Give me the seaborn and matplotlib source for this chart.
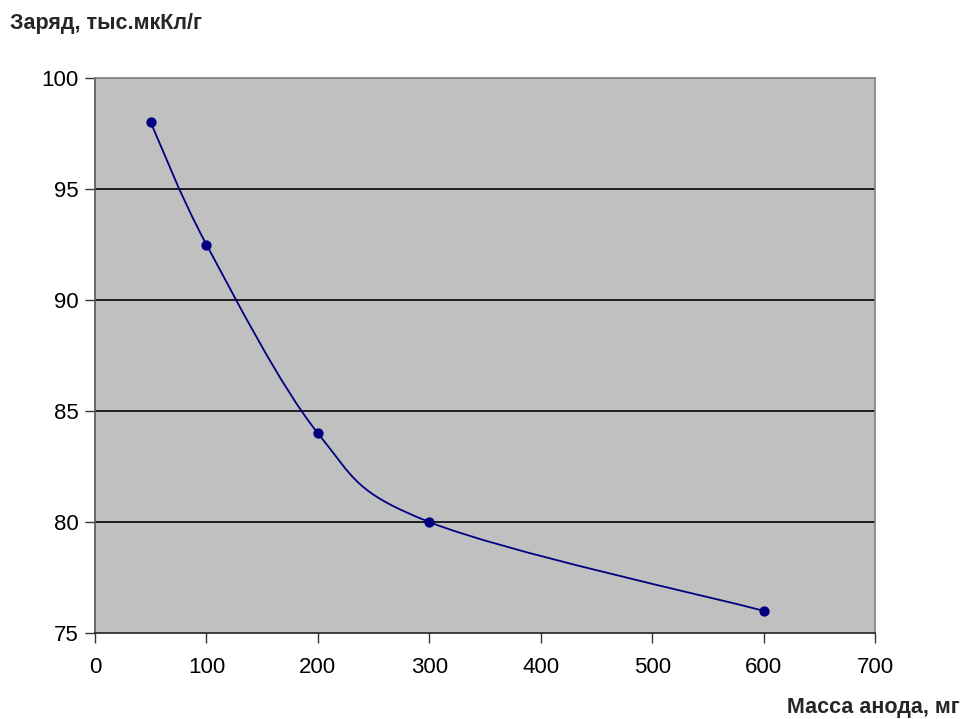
import seaborn as sns
import pandas as pd
import numpy as np
import matplotlib
matplotlib.use('Agg')
import matplotlib.pyplot as plt
from matplotlib.path import Path
from matplotlib.patches import PathPatch

mass = [50, 100, 200, 300, 600]
charge = [98, 92.5, 84, 80, 76]
x_ticks = [0, 100, 200, 300, 400, 500, 600, 700]
y_ticks = [75, 80, 85, 90, 95, 100]
line_color = "#000080"


def smooth_path(xs, ys):
    # Excel-like smoothed line: cubic Bezier segments with Catmull-Rom tangents
    p = np.column_stack([xs, ys]).astype(float)
    n = len(p)
    verts = [p[0]]
    codes = [Path.MOVETO]
    for i in range(n - 1):
        prev = p[i - 1] if i > 0 else p[i]
        nxt = p[i + 2] if i + 2 < n else p[i + 1]
        c1 = p[i] + (p[i + 1] - prev) / 6.0
        c2 = p[i + 1] - (nxt - p[i]) / 6.0
        verts += [c1, c2, p[i + 1]]
        codes += [Path.CURVE4] * 3
    return Path(verts, codes)


df = pd.DataFrame({"mass": mass, "charge": charge})

sns.set_style("white")
plt.rcParams['font.family'] = ['Liberation Sans', 'DejaVu Sans']

fig = plt.figure(figsize=(9.7, 7.19), dpi=100)
ax = fig.add_axes([95 / 970, 1 - 633 / 719, 780 / 970, 555 / 719])
ax.set_facecolor("#C0C0C0")

ax.add_patch(PathPatch(smooth_path(mass, charge), facecolor="none",
                       edgecolor=line_color, lw=1.3, zorder=3))
sns.scatterplot(data=df, x="mass", y="charge", color=line_color, s=55,
                edgecolor=line_color, linewidth=0, zorder=4, ax=ax)

ax.set_xlim(0, 700)
ax.set_ylim(75, 100)
ax.set_xticks(x_ticks)
ax.set_yticks(y_ticks)
for yv in y_ticks[1:-1]:
    ax.axhline(yv, color="black", lw=1.2, zorder=1)
ax.axhline(100, color="#808080", lw=1.2, zorder=1)

ax.tick_params(axis='both', labelsize=16, length=7, width=1, direction='out',
               color="#333333", labelcolor="black", pad=10)
ax.tick_params(axis='y', pad=5)
ax.tick_params(bottom=True, left=True)
ax.spines['left'].set_color("#555555")
ax.spines['bottom'].set_color("#222222")
ax.spines['top'].set_color("#808080")
ax.spines['right'].set_color("#808080")
for sp in ax.spines.values():
    sp.set_linewidth(1.2)

ax.set_xlabel("")
ax.set_ylabel("")
fig.text(10 / 970, 1 - 23 / 719, "Заряд, тыс.мкКл/г", fontsize=15.5, fontweight='bold',
         ha='left', va='center')
fig.text(960 / 970, 1 - 707 / 719, "Масса анода, мг", fontsize=15.5, fontweight='bold',
         ha='right', va='center')

fig.savefig("out.png", dpi=100)
